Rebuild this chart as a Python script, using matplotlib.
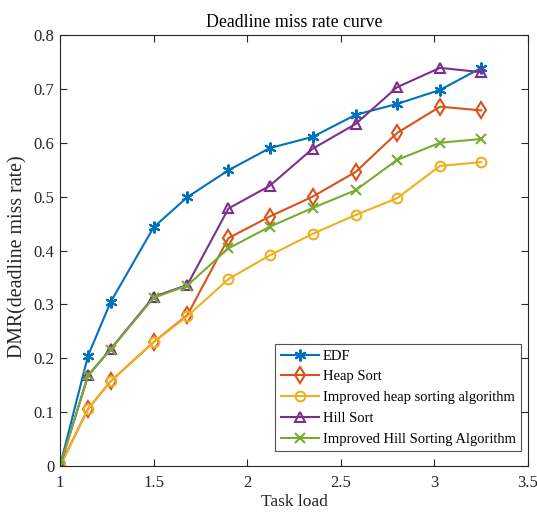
import matplotlib
matplotlib.use("Agg")
import matplotlib.pyplot as plt
from matplotlib.ticker import FixedLocator, FixedFormatter

plt.rcParams['font.family'] = ['Liberation Serif', 'DejaVu Serif']
plt.rcParams['mathtext.fontset'] = 'stix'

task_load = [1.0, 1.15, 1.27, 1.5, 1.68, 1.9, 2.12, 2.35, 2.58, 2.8, 3.03, 3.25]
edf = [0.0, 0.205, 0.304, 0.443, 0.499, 0.549, 0.590, 0.611, 0.652, 0.672, 0.698, 0.739]
heap = [0.0, 0.106, 0.157, 0.230, 0.280, 0.423, 0.463, 0.500, 0.546, 0.618, 0.667, 0.660]
imp_heap = [0.0, 0.106, 0.157, 0.230, 0.278, 0.347, 0.391, 0.431, 0.466, 0.497, 0.557, 0.564]
hill = [0.0, 0.168, 0.217, 0.314, 0.336, 0.478, 0.520, 0.589, 0.635, 0.703, 0.739, 0.731]
imp_hill = [0.0, 0.168, 0.216, 0.312, 0.335, 0.404, 0.444, 0.479, 0.512, 0.568, 0.600, 0.607]

labels = ['EDF', 'Heap Sort', 'Improved heap sorting algorithm', 'Hill Sort',
          'Improved Hill Sorting Algorithm']
xticks = [1, 1.5, 2, 2.5, 3, 3.5]
xticklabels = ['1', '1.5', '2', '2.5', '3', '3.5']
yticks = [0, 0.1, 0.2, 0.3, 0.4, 0.5, 0.6, 0.7, 0.8]
yticklabels = ['0', '0.1', '0.2', '0.3', '0.4', '0.5', '0.6', '0.7', '0.8']

colors = ['#0072BD', '#D95319', '#EDB120', '#7E2F8E', '#77AC30']
markers = ['*', 'd', 'o', '^', 'x']

fig = plt.figure(figsize=(5.37, 5.17), dpi=100)
ax = fig.add_axes([60/537, 1-466/517, (528-60)/537, (466-35)/517])

series = [edf, heap, imp_heap, hill, imp_hill]
msizes = [8.5, 8, 7, 7.5, 7.5]
for ys, lab, c, m, ms in zip(series, labels, colors, markers, msizes):
    if m == '*':
        ax.plot(task_load, ys, color=c, lw=1.5, marker=(6, 2, 0), markersize=ms,
                markeredgewidth=1.5, label=lab)
    else:
        ax.plot(task_load, ys, color=c, lw=1.5, marker=m, markersize=ms,
                markerfacecolor='none', markeredgewidth=1.5, label=lab)

ax.set_xlim(1, 3.5)
ax.set_ylim(0, 0.8)
ax.xaxis.set_major_locator(FixedLocator(xticks))
ax.xaxis.set_major_formatter(FixedFormatter(xticklabels))
ax.yaxis.set_major_locator(FixedLocator(yticks))
ax.yaxis.set_major_formatter(FixedFormatter(yticklabels))
ax.tick_params(direction='in', top=True, right=True, length=5, width=0.8,
               labelsize=12, colors='#262626', pad=4)
ax.tick_params(axis='x', pad=6.5)
for s in ax.spines.values():
    s.set_color('#262626')
    s.set_linewidth(0.8)

ax.set_title('Deadline miss rate curve', fontsize=12.8, color='black', pad=6)
ax.set_xlabel('Task load', fontsize=12.5, color='#262626', labelpad=2)
ax.set_ylabel('DMR(deadline miss rate)', fontsize=14.3, color='#262626')
ax.yaxis.set_label_coords(-0.07, 0.485)

leg = ax.legend(loc='lower right', bbox_to_anchor=(0.985, 0.035), fontsize=10.5,
                frameon=True, fancybox=False, handlelength=2.6, borderpad=0.35,
                labelspacing=0.52, handletextpad=0.3, borderaxespad=0)
leg.get_frame().set_edgecolor('#262626')
leg.get_frame().set_linewidth(0.8)

fig.savefig('out.png', dpi=100)
